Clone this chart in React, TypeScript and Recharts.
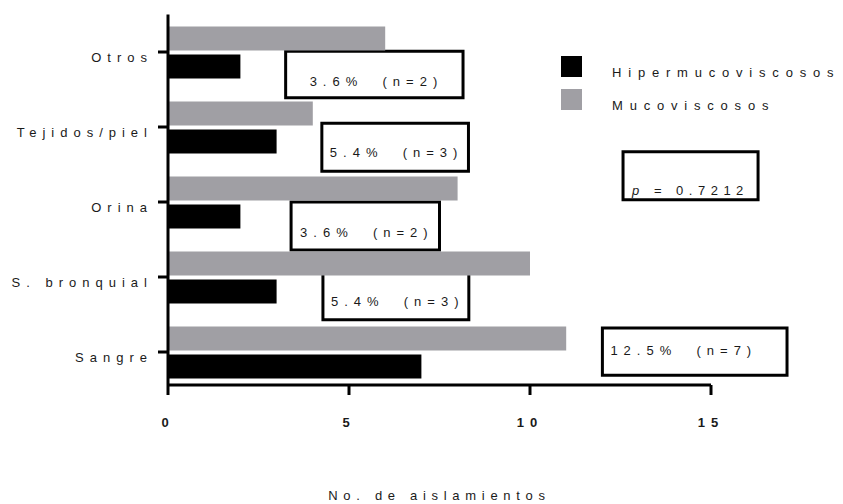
import React from 'react';
import { BarChart, Bar, XAxis, YAxis, Legend, ReferenceArea } from 'recharts';

// Aislamientos por tipo de muestra
const categories = ['Otros', 'Tejidos/piel', 'Orina', 'S. bronquial', 'Sangre'];
const hipermucoviscosos = [2, 3, 2, 3, 7];
const mucoviscosos = [6, 4, 8, 10, 11];
const xTicks = [0, 5, 10, 15];

const seriesNames = ['Hipermucoviscosos', 'Mucoviscosos'];
const seriesColors = ['#000000', '#a09fa4'];

// Recuadros de texto: porcentaje de hipermucoviscosos y valor p
const noteTexts = ['3.6%  (n=2)', '5.4%  (n=3)', '3.6%  (n=2)', '5.4%  (n=3)', 'p = 0.7212', '12.5%  (n=7)'];
// x en aislamientos; y en bandas de categoría contadas desde arriba (0.5 = mitad de "Otros")
const noteBoxes = [
  { x1: 3.25, x2: 8.15, y1: 0.49, y2: 1.11, pad: 24, off: 12 },
  { x1: 4.25, x2: 8.3, y1: 1.45, y2: 2.09, pad: 8, off: 14 },
  { x1: 3.4, x2: 7.5, y1: 2.5, y2: 3.14, pad: 9, off: 13 },
  { x1: 4.28, x2: 8.31, y1: 3.43, y2: 4.07, pad: 8, off: 14 },
  { x1: 12.57, x2: 16.3, y1: 1.83, y2: 2.47, pad: 9, off: 5 },
  { x1: 12.0, x2: 17.1, y1: 4.18, y2: 4.81, pad: 8, off: 20 },
];

const FONT = '"Liberation Sans", Arial, sans-serif';
const INK = '#1a1a1a';

const data = categories.map((name, i) => ({
  name,
  hiper: hipermucoviscosos[i],
  muco: mucoviscosos[i],
}));

const YTick = (props: any) => {
  const { x, y, payload } = props;
  return (
    <text x={x} y={y + 10} textAnchor="end" fontFamily={FONT} fontSize={13} fill={INK} style={{ letterSpacing: 6 }}>
      {payload.value}
    </text>
  );
};

const XTick = (props: any) => {
  const { x, y, payload } = props;
  return (
    <text x={x} y={y + 30} textAnchor="middle" fontFamily={FONT} fontSize={13} fontWeight="bold" fill={INK} style={{ letterSpacing: 6 }}>
      {payload.value}
    </text>
  );
};

const AxisTitle = (props: any) => {
  const { viewBox } = props;
  return (
    <text x={viewBox.x + viewBox.width / 2} y={500} textAnchor="middle" fontFamily={FONT} fontSize={13} fill={INK} style={{ letterSpacing: 5.7 }}>
      No. de aislamientos
    </text>
  );
};

// The area spans the whole band of one category; the box sits at a fraction of it
const noteShape = (box: any, text: string) => (props: any) => {
  const { x, y, width, height } = props;
  const band = Math.floor(box.y1);
  const top = y + (box.y1 - band) * height;
  const h = (box.y2 - box.y1) * height;
  const italicP = text.startsWith('p ');
  return (
    <g>
      <rect x={x} y={top} width={width} height={h} fill="#fff" stroke="#000" strokeWidth={3} />
      <text
        x={x + box.pad}
        y={top + h - box.off}
        fontFamily={FONT}
        fontSize={13}
        fill={INK}
        style={{ letterSpacing: italicP ? 5.5 : 6, whiteSpace: 'pre' }}
      >
        {italicP ? (
          <>
            <tspan fontStyle="italic">p</tspan>
            <tspan>{text.slice(1)}</tspan>
          </>
        ) : (
          text
        )}
      </text>
    </g>
  );
};

const LegendBox = () => (
  <svg width={282} height={60}>
    {seriesNames.map((name, i) => (
      <g key={name}>
        <rect x={0} y={i * 33} width={21} height={21} fill={seriesColors[i]} />
        <text x={51} y={i * 33 + 21} fontFamily={FONT} fontSize={13} fill={INK} style={{ letterSpacing: 6.8 }}>
          {name}
        </text>
      </g>
    ))}
  </svg>
);

export default function App() {
  return (
    <div style={{ position: 'absolute', left: 0, top: 0, background: '#fff' }}>
      <BarChart
        width={843}
        height={504}
        data={data}
        layout="vertical"
        margin={{ top: 14.5, right: 132, bottom: 9, left: 0 }}
        barSize={24}
        barGap={4}
      >
        <XAxis
          type="number"
          domain={[0, 15]}
          ticks={xTicks}
          allowDataOverflow
          axisLine={{ stroke: '#000', strokeWidth: 3 }}
          tickLine={{ stroke: '#000', strokeWidth: 3 }}
          tickSize={10}
          height={110}
          tick={<XTick />}
          label={<AxisTitle />}
        />
        <YAxis
          type="category"
          dataKey="name"
          width={168}
          interval={0}
          padding={{ top: 0, bottom: -4.5 }}
          axisLine={{ stroke: '#000', strokeWidth: 3 }}
          tickLine={{ stroke: '#000', strokeWidth: 3 }}
          tickSize={10}
          tickMargin={5}
          tick={<YTick />}
        />
        <Legend
          layout="vertical"
          align="center"
          verticalAlign="middle"
          wrapperStyle={{ left: 561, top: 56, width: 282 }}
          content={<LegendBox />}
        />
        <Bar dataKey="muco" name={seriesNames[1]} fill={seriesColors[1]} isAnimationActive={false} />
        <Bar dataKey="hiper" name={seriesNames[0]} fill={seriesColors[0]} isAnimationActive={false} />
        {noteBoxes.map((b, i) => (
          <ReferenceArea
            key={i}
            x1={b.x1}
            x2={b.x2}
            y1={categories[Math.floor(b.y1)]}
            y2={categories[Math.floor(b.y1)]}
            ifOverflow="visible"
            shape={noteShape(b, noteTexts[i])}
          />
        ))}
      </BarChart>
    </div>
  );
}
